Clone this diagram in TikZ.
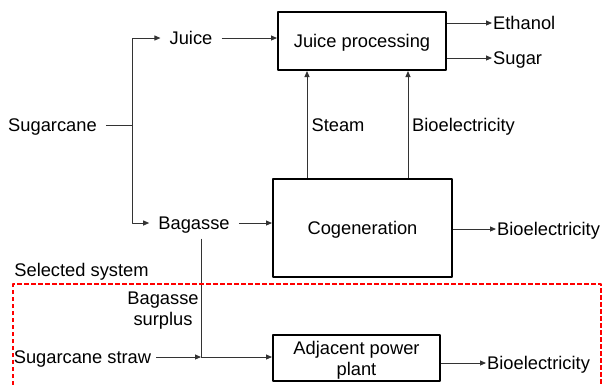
\documentclass[tikz,border=0pt]{standalone}
\usepackage{fontspec}
\setmainfont{Liberation Sans}
\usetikzlibrary{arrows.meta}
\begin{document}
\begin{tikzpicture}[x=1pt,y=-1pt,line join=round,
	font=\fontsize{18.3}{21}\selectfont,
	every node/.append style={text depth=0pt},
	flow/.style={-{Triangle[length=6pt,width=5pt]},line width=0.9pt,black!80},
	link/.style={line width=0.9pt,black!80},
	unit/.style={draw,line width=2pt,align=center,inner sep=2pt},
	item/.style={inner sep=9pt},
	product/.style={anchor=west,inner sep=1pt},
	selbox/.style={red,line width=1.6pt,dash pattern=on 4.5pt off 2.5pt}]
	\useasboundingbox (0,0) rectangle (603,384);
	\node[item] (cane) at (52.5,125) {Sugarcane};
	\node[item] (juice) at (191,38) {Juice};
	\node[item] (bagasse) at (194,223) {Bagasse};
	\node[item,inner sep=5pt] (straw) at (82.5,357) {Sugarcane straw};
	\node[unit,minimum width=168pt,minimum height=58pt] (jproc) at (362,41) {Juice processing};
	\node[unit,minimum width=179pt,minimum height=98pt] (cogen) at (362.5,228) {Cogeneration};
	\node[unit,minimum width=167pt,minimum height=46pt] (adj) at (356.5,358) {Adjacent power\\plant};
	\node[product] (ethanol) at (492,23) {Ethanol};
	\node[product] (sugar) at (492,58) {Sugar};
	\node[product] (elec1) at (496,229) {Bioelectricity};
	\node[product] (elec2) at (486,363) {Bioelectricity};
	\node[inner sep=0pt] (steam) at (338,125) {Steam};
	\node[inner sep=0pt] (elec0) at (463.5,125) {Bioelectricity};
	\node[inner sep=0pt] (selected) at (81.5,270) {Selected system};
	\node[inner sep=0pt,align=center] (surplus) at (163,308.5) {Bagasse\\surplus};
	\coordinate (split) at (132,125);
	\coordinate (join) at (201,357);
	\draw[link] (cane) -- (split);
	\draw[flow] (split) |- (juice);
	\draw[flow] (split) |- (bagasse);
	\draw[flow] (juice) -- (jproc.west |- juice);
	\draw[flow] (bagasse) -- (cogen.west |- bagasse);
	\draw[flow] (jproc.east |- ethanol) -- (ethanol);
	\draw[flow] (jproc.east |- sugar) -- (sugar);
	\draw[flow] ([xshift=-55.5pt]cogen.north) -- ([xshift=-55.5pt]cogen.north |- jproc.south);
	\draw[flow] ([xshift=45.5pt]cogen.north) -- ([xshift=45.5pt]cogen.north |- jproc.south);
	\draw[flow] (cogen.east |- elec1) -- (elec1);
	\draw[link] (bagasse.south -| join) -- (join);
	\draw[flow] (straw) -- (join);
	\draw[flow] (join) -- (adj.west |- join);
	\draw[flow] (adj.east |- elec2) -- (elec2);
	\draw[selbox] (13,392) -- (13,284) -- (601,284) -- (601,392);
\end{tikzpicture}
\end{document}
